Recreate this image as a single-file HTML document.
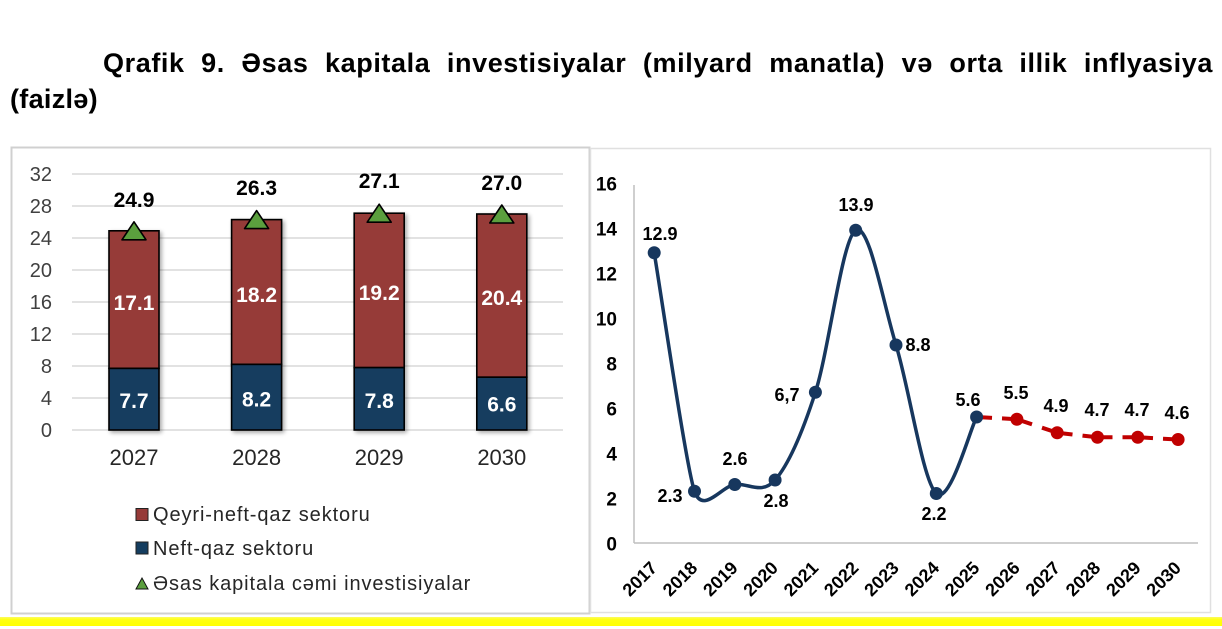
<!DOCTYPE html>
<html>
<head>
<meta charset="utf-8">
<style>
  html,body{margin:0;padding:0;background:#fff;}
  body{width:1222px;height:629px;position:relative;overflow:hidden;font-family:"Liberation Sans",Arial,sans-serif;}
  .t1{position:absolute;left:103px;top:48px;width:1110px;font-size:27px;font-weight:bold;line-height:30px;letter-spacing:0.6px;
      text-align:justify;text-align-last:justify;color:#000;}
  .t2{position:absolute;left:10px;top:84px;font-size:27px;font-weight:bold;line-height:30px;letter-spacing:0.3px;color:#000;}
  svg{position:absolute;left:0;top:0;}
</style>
</head>
<body>
<div class="t1">Qrafik 9. Əsas kapitala investisiyalar (milyard manatla) və orta illik inflyasiya</div>
<div class="t2">(faizlə)</div>

<svg width="1222" height="629" viewBox="0 0 1222 629" xmlns="http://www.w3.org/2000/svg" font-family="Liberation Sans, Arial, sans-serif">
  <defs>
    <filter id="sh" x="-20%" y="-20%" width="140%" height="140%">
      <feGaussianBlur in="SourceAlpha" stdDeviation="2"/>
      <feOffset dx="2" dy="2" result="o"/>
      <feComponentTransfer><feFuncA type="linear" slope="0.35"/></feComponentTransfer>
      <feMerge><feMergeNode/><feMergeNode in="SourceGraphic"/></feMerge>
    </filter>
    <linearGradient id="yel" x1="0" y1="0" x2="0" y2="1">
      <stop offset="0" stop-color="#fbfb60"/>
      <stop offset="0.3" stop-color="#ffff10"/>
      <stop offset="1" stop-color="#ffff00"/>
    </linearGradient>
  </defs>

  <!-- panels -->
  <rect x="11.5" y="147.5" width="578" height="466" fill="#fff" stroke="#d0d0d0" stroke-width="2"/>
  <rect x="590.5" y="148.5" width="620" height="464" fill="#fff" stroke="#e0e0e0" stroke-width="1.5"/>
  <rect x="0" y="617" width="1222" height="9" fill="url(#yel)"/>

  <!-- LEFT CHART -->
  <g stroke="#d9d9d9" stroke-width="1.5">
    <line x1="72" y1="174" x2="563" y2="174"/>
    <line x1="72" y1="206" x2="563" y2="206"/>
    <line x1="72" y1="238" x2="563" y2="238"/>
    <line x1="72" y1="270" x2="563" y2="270"/>
    <line x1="72" y1="302" x2="563" y2="302"/>
    <line x1="72" y1="334" x2="563" y2="334"/>
    <line x1="72" y1="366" x2="563" y2="366"/>
    <line x1="72" y1="398" x2="563" y2="398"/>
    <line x1="72" y1="430" x2="563" y2="430"/>
  </g>
  <g font-size="20" fill="#404040" text-anchor="end">
    <text x="52" y="181">32</text>
    <text x="52" y="213">28</text>
    <text x="52" y="245">24</text>
    <text x="52" y="277">20</text>
    <text x="52" y="309">16</text>
    <text x="52" y="341">12</text>
    <text x="52" y="373">8</text>
    <text x="52" y="405">4</text>
    <text x="52" y="437">0</text>
  </g>

  <g filter="url(#sh)" stroke="#000" stroke-width="1.6">
    <rect x="109" y="230.8" width="50" height="137.6" fill="#963a38"/>
    <rect x="109" y="368.4" width="50" height="61.6" fill="#143d5f"/>
    <rect x="231.6" y="219.6" width="50" height="144.8" fill="#963a38"/>
    <rect x="231.6" y="364.4" width="50" height="65.6" fill="#143d5f"/>
    <rect x="354.2" y="213.2" width="50" height="154.4" fill="#963a38"/>
    <rect x="354.2" y="367.6" width="50" height="62.4" fill="#143d5f"/>
    <rect x="476.8" y="214" width="50" height="163.2" fill="#963a38"/>
    <rect x="476.8" y="377.2" width="50" height="52.8" fill="#143d5f"/>
  </g>

  <g fill="#5b9f3e" stroke="#000" stroke-width="1.6" stroke-linejoin="round">
    <polygon points="122,239.8 146,239.8 134,221.8"/>
    <polygon points="244.6,228.6 268.6,228.6 256.6,210.6"/>
    <polygon points="367.2,222.2 391.2,222.2 379.2,204.2"/>
    <polygon points="489.8,223 513.8,223 501.8,205"/>
  </g>

  <g font-size="21" font-weight="bold" fill="#000" text-anchor="middle">
    <text x="134" y="207">24.9</text>
    <text x="256.6" y="195">26.3</text>
    <text x="379.2" y="188">27.1</text>
    <text x="501.8" y="190">27.0</text>
  </g>
  <g font-size="21" font-weight="bold" fill="#fff" text-anchor="middle">
    <text x="134" y="310">17.1</text>
    <text x="256.6" y="302">18.2</text>
    <text x="379.2" y="300">19.2</text>
    <text x="501.8" y="305">20.4</text>
    <text x="134" y="408">7.7</text>
    <text x="256.6" y="406.5">8.2</text>
    <text x="379.2" y="408">7.8</text>
    <text x="501.8" y="411.5">6.6</text>
  </g>
  <g font-size="22" fill="#262626" text-anchor="middle">
    <text x="134" y="465">2027</text>
    <text x="256.6" y="465">2028</text>
    <text x="379.2" y="465">2029</text>
    <text x="501.8" y="465">2030</text>
  </g>

  <!-- legend -->
  <rect x="136" y="508.5" width="12" height="12" fill="#963a38" stroke="#222" stroke-width="1"/>
  <rect x="136" y="542" width="12" height="12" fill="#143d5f" stroke="#222" stroke-width="1"/>
  <polygon points="136,589 148,589 142,578" fill="#5b9f3e" stroke="#111" stroke-width="1"/>
  <g font-size="20" fill="#262626" letter-spacing="0.9">
    <text x="153" y="521">Qeyri-neft-qaz sektoru</text>
    <text x="153" y="555">Neft-qaz sektoru</text>
    <text x="153" y="590">Əsas kapitala cəmi investisiyalar</text>
  </g>

  <!-- RIGHT CHART -->
  <g stroke="#bfbfbf" stroke-width="1.5">
    <line x1="634" y1="185" x2="634" y2="543"/>
    <line x1="634" y1="543" x2="1198" y2="543"/>
  </g>
  <g font-size="19" font-weight="bold" fill="#000" text-anchor="end">
    <text x="617" y="190.5">16</text>
    <text x="617" y="235.5">14</text>
    <text x="617" y="280.5">12</text>
    <text x="617" y="325.5">10</text>
    <text x="617" y="370.5">8</text>
    <text x="617" y="415.5">6</text>
    <text x="617" y="460.5">4</text>
    <text x="617" y="505.5">2</text>
    <text x="617" y="550.5">0</text>
  </g>

  <!-- forecast dashed red: dash touching each marker, gap mid-segment -->
  <g stroke="#c00000" stroke-width="4" fill="none">
    <line x1="976.6" y1="417" x2="992" y2="417.9"/>
    <line x1="1002" y1="418.4" x2="1016.9" y2="419.25"/>
    <line x1="1016.9" y1="419.25" x2="1032" y2="424.3"/>
    <line x1="1042" y1="427.7" x2="1057.2" y2="432.75"/>
    <line x1="1057.2" y1="432.75" x2="1072.5" y2="434.5"/>
    <line x1="1082.5" y1="435.6" x2="1097.5" y2="437.25"/>
    <line x1="1097.5" y1="437.25" x2="1112.5" y2="437.25"/>
    <line x1="1122.5" y1="437.25" x2="1137.8" y2="437.25"/>
    <line x1="1137.8" y1="437.25" x2="1153" y2="438.1"/>
    <line x1="1163" y1="438.7" x2="1178.1" y2="439.5"/>
  </g>
  <g fill="#c00000">
    <circle cx="1016.9" cy="419.25" r="6.5"/>
    <circle cx="1057.2" cy="432.75" r="6.5"/>
    <circle cx="1097.5" cy="437.25" r="6.5"/>
    <circle cx="1137.8" cy="437.25" r="6.5"/>
    <circle cx="1178.1" cy="439.5" r="6.5"/>
  </g>

  <!-- actual smoothed navy -->
  <path d="M654.2,252.75 C660.92,292.5 686.24,467.5 694.5,491.25
           C702.76,515 721.37,486.38 734.8,484.5
           C748.23,482.63 761.67,495.38 775.1,480
           C788.53,464.63 801.97,433.88 815.4,392.25
           C828.83,350.63 842.27,238.13 855.7,230.25
           C869.13,222.38 882.57,301.13 896,345
           C909.43,388.88 922.87,481.5 936.3,493.5
           C949.73,505.5 969.88,429.75 976.6,417"
        fill="none" stroke="#17375e" stroke-width="3.5" stroke-linecap="round"/>
  <g fill="#17375e">
    <circle cx="654.2" cy="252.75" r="6.5"/>
    <circle cx="694.5" cy="491.25" r="6.5"/>
    <circle cx="734.8" cy="484.5" r="6.5"/>
    <circle cx="775.1" cy="480" r="6.5"/>
    <circle cx="815.4" cy="392.25" r="6.5"/>
    <circle cx="855.7" cy="230.25" r="6.5"/>
    <circle cx="896" cy="345" r="6.5"/>
    <circle cx="936.3" cy="493.5" r="6.5"/>
    <circle cx="976.6" cy="417" r="6.5"/>
  </g>

  <!-- data labels -->
  <g font-size="18" font-weight="bold" fill="#000" text-anchor="middle">
    <text x="660" y="240">12.9</text>
    <text x="670" y="502">2.3</text>
    <text x="735" y="465">2.6</text>
    <text x="776" y="507">2.8</text>
    <text x="787" y="401">6,7</text>
    <text x="856" y="211">13.9</text>
    <text x="918" y="351">8.8</text>
    <text x="934" y="520">2.2</text>
    <text x="968" y="406">5.6</text>
    <text x="1016" y="399">5.5</text>
    <text x="1056" y="412">4.9</text>
    <text x="1097" y="416">4.7</text>
    <text x="1137" y="416">4.7</text>
    <text x="1177" y="419">4.6</text>
  </g>

  <!-- rotated x labels -->
  <g font-size="18" font-weight="bold" fill="#000" text-anchor="end">
    <text transform="translate(658.2,569) rotate(-45)">2017</text>
    <text transform="translate(698.5,569) rotate(-45)">2018</text>
    <text transform="translate(738.8,569) rotate(-45)">2019</text>
    <text transform="translate(779.1,569) rotate(-45)">2020</text>
    <text transform="translate(819.4,569) rotate(-45)">2021</text>
    <text transform="translate(859.7,569) rotate(-45)">2022</text>
    <text transform="translate(900,569) rotate(-45)">2023</text>
    <text transform="translate(940.3,569) rotate(-45)">2024</text>
    <text transform="translate(980.6,569) rotate(-45)">2025</text>
    <text transform="translate(1020.9,569) rotate(-45)">2026</text>
    <text transform="translate(1061.2,569) rotate(-45)">2027</text>
    <text transform="translate(1101.5,569) rotate(-45)">2028</text>
    <text transform="translate(1141.8,569) rotate(-45)">2029</text>
    <text transform="translate(1182.1,569) rotate(-45)">2030</text>
  </g>
</svg>
</body>
</html>
